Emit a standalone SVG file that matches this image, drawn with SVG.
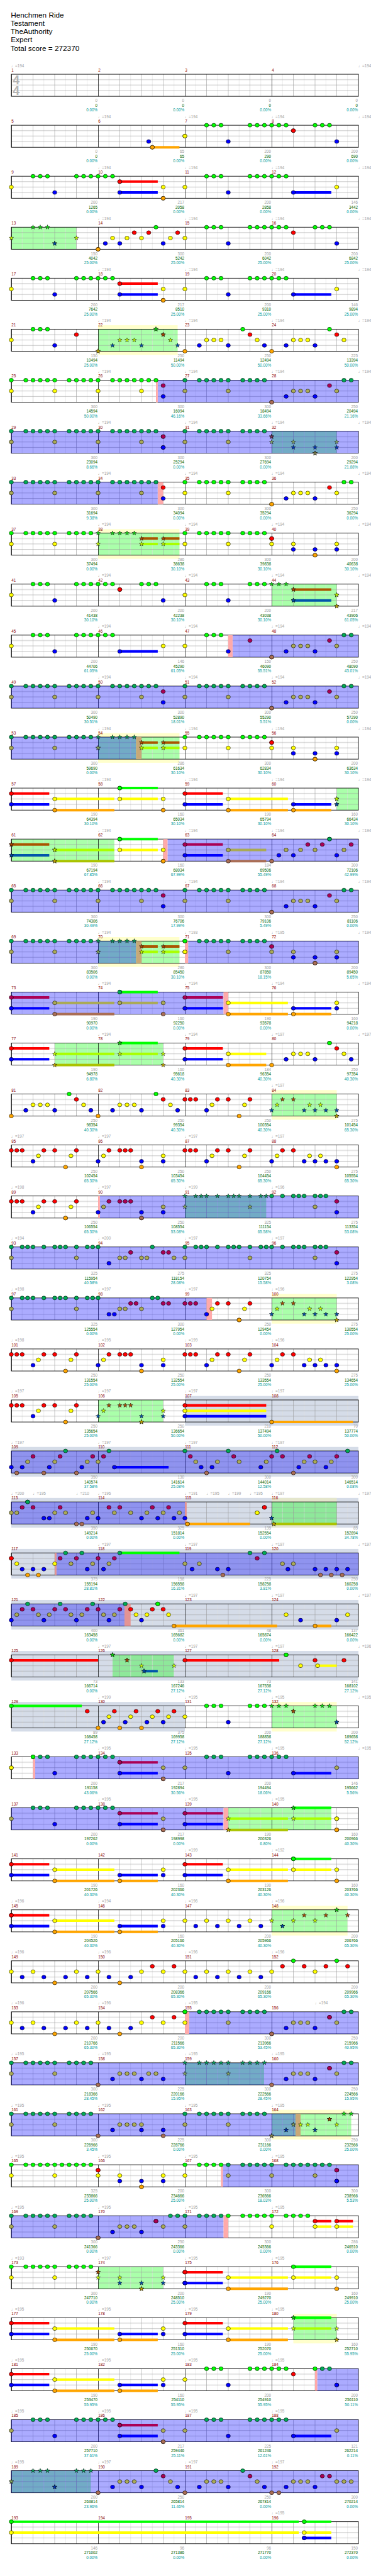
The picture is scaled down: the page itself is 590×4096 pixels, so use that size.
<svg xmlns="http://www.w3.org/2000/svg" width="590" height="4096" viewBox="0 0 590 4096">
<style>
text{font-family:"Liberation Sans","DejaVu Sans",Arial,sans-serif}
.ti{font-size:20.5px;fill:#000}
.mn{font-size:11px;fill:#8b0000}
.tp{font-size:11px;fill:#a0a0a0}
.s1,.s2,.s3{font-size:11px;text-anchor:end}
.s1{fill:#a0a0a0}.s2{fill:#006400}.s3{fill:#009b9b}
.ts{font-size:34px;font-weight:bold;fill:#b4b4b4}
.yb{fill:#ffffcc}.yb2{fill:#e4e6cc}.gb{fill:#d5dce8}.sp{fill:#aaffaa}.sp2{fill:#8ee89a}
.ov{fill:#0000ff;fill-opacity:.33}
.pk{fill:#ffaaaa}.pk2{fill:#e49494}.tn{fill:#c8a878}
.lG,.lR,.lY,.lB,.lO,.mR,.mY,.mO,.kG,.kY,.kB,.kO,.kR{fill:none;stroke-width:7}
.lG,.kG{stroke:#00ff00}.lR{stroke:#ff0000}.lY{stroke:#ffff00}.lB{stroke:#0000ff}.lO{stroke:#ffa500}
.mR{stroke:#aa0055}.mY{stroke:#aaaa55}.mO{stroke:#aa6e55}
.kR{stroke:#aa5500}.kY{stroke:#aaff00}.kB{stroke:#0055aa}.kO{stroke:#aac300}
.nG{marker-start:url(#nG);marker-mid:url(#nG);marker-end:url(#nG)}
.nR{marker-start:url(#nR);marker-mid:url(#nR);marker-end:url(#nR)}
.nY{marker-start:url(#nY);marker-mid:url(#nY);marker-end:url(#nY)}
.nB{marker-start:url(#nB);marker-mid:url(#nB);marker-end:url(#nB)}
.nO{marker-start:url(#nO);marker-mid:url(#nO);marker-end:url(#nO)}
.tG{marker-start:url(#tG);marker-mid:url(#tG);marker-end:url(#tG)}
.tR{marker-start:url(#tR);marker-mid:url(#tR);marker-end:url(#tR)}
.tY{marker-start:url(#tY);marker-mid:url(#tY);marker-end:url(#tY)}
.tB{marker-start:url(#tB);marker-mid:url(#tB);marker-end:url(#tB)}
.tO{marker-start:url(#tO);marker-mid:url(#tO);marker-end:url(#tO)}
.xG{marker-start:url(#xG);marker-mid:url(#xG);marker-end:url(#xG)}
.xR{marker-start:url(#xR);marker-mid:url(#xR);marker-end:url(#xR)}
.xY{marker-start:url(#xY);marker-mid:url(#xY);marker-end:url(#xY)}
.xB{marker-start:url(#xB);marker-mid:url(#xB);marker-end:url(#xB)}
.xO{marker-start:url(#xO);marker-mid:url(#xO);marker-end:url(#xO)}
.zG{marker-start:url(#zG);marker-mid:url(#zG);marker-end:url(#zG)}
.zR{marker-start:url(#zR);marker-mid:url(#zR);marker-end:url(#zR)}
.zY{marker-start:url(#zY);marker-mid:url(#zY);marker-end:url(#zY)}
.zB{marker-start:url(#zB);marker-mid:url(#zB);marker-end:url(#zB)}
.zO{marker-start:url(#zO);marker-mid:url(#zO);marker-end:url(#zO)}
</style>
<defs>
<pattern id="gr" patternUnits="userSpaceOnUse" width="240" height="61">
<path d="M30 0V61M90 0V61M150 0V61M210 0V61" stroke="#dedede" stroke-width="1"/>
<path d="M60 0V61M120 0V61M180 0V61M0 15H240M0 30H240M0 45H240" stroke="#9a9a9a" stroke-width="1"/>
<rect width="1.2" height="61" fill="#000"/>
</pattern>
<g id="st"><rect width="960" height="61" fill="url(#gr)"/><rect width="960" height="61" fill="none" stroke="#000" stroke-width="1.5"/></g>
<marker id="nG" viewBox="-7 -7 14 14" markerWidth="14" markerHeight="14" markerUnits="userSpaceOnUse"><ellipse rx="5.8" ry="5.3" fill="#00ff00" stroke="#000"/></marker>
<marker id="nR" viewBox="-7 -7 14 14" markerWidth="14" markerHeight="14" markerUnits="userSpaceOnUse"><ellipse rx="5.8" ry="5.3" fill="#ff0000" stroke="#000"/></marker>
<marker id="nY" viewBox="-7 -7 14 14" markerWidth="14" markerHeight="14" markerUnits="userSpaceOnUse"><ellipse rx="5.8" ry="5.3" fill="#ffff00" stroke="#000"/></marker>
<marker id="nB" viewBox="-7 -7 14 14" markerWidth="14" markerHeight="14" markerUnits="userSpaceOnUse"><ellipse rx="5.8" ry="5.3" fill="#0000ff" stroke="#000"/></marker>
<marker id="nO" viewBox="-7 -7 14 14" markerWidth="14" markerHeight="14" markerUnits="userSpaceOnUse"><ellipse rx="5.8" ry="5.3" fill="#ffa500" stroke="#000"/></marker>
<marker id="tG" viewBox="-7 -7 14 14" markerWidth="14" markerHeight="14" markerUnits="userSpaceOnUse"><ellipse rx="5.8" ry="5.3" fill="#00aa55" stroke="#000"/></marker>
<marker id="tR" viewBox="-7 -7 14 14" markerWidth="14" markerHeight="14" markerUnits="userSpaceOnUse"><ellipse rx="5.8" ry="5.3" fill="#aa0055" stroke="#000"/></marker>
<marker id="tY" viewBox="-7 -7 14 14" markerWidth="14" markerHeight="14" markerUnits="userSpaceOnUse"><ellipse rx="5.8" ry="5.3" fill="#aaaa55" stroke="#000"/></marker>
<marker id="tB" viewBox="-7 -7 14 14" markerWidth="14" markerHeight="14" markerUnits="userSpaceOnUse"><ellipse rx="5.8" ry="5.3" fill="#0000ff" stroke="#000"/></marker>
<marker id="tO" viewBox="-7 -7 14 14" markerWidth="14" markerHeight="14" markerUnits="userSpaceOnUse"><ellipse rx="5.8" ry="5.3" fill="#aa6e55" stroke="#000"/></marker>
<marker id="xG" viewBox="-7 -7 14 14" markerWidth="14" markerHeight="14" markerUnits="userSpaceOnUse"><polygon points="0,-6.5 1.53,-2.1 6.18,-2 2.47,0.8 3.82,5.26 0,2.6 -3.82,5.26 -2.47,0.8 -6.18,-2 -1.53,-2.1" fill="#11dd11" stroke="#000" stroke-width=".8"/></marker>
<marker id="xR" viewBox="-7 -7 14 14" markerWidth="14" markerHeight="14" markerUnits="userSpaceOnUse"><polygon points="0,-6.5 1.53,-2.1 6.18,-2 2.47,0.8 3.82,5.26 0,2.6 -3.82,5.26 -2.47,0.8 -6.18,-2 -1.53,-2.1" fill="#b04a00" stroke="#000" stroke-width=".8"/></marker>
<marker id="xY" viewBox="-7 -7 14 14" markerWidth="14" markerHeight="14" markerUnits="userSpaceOnUse"><polygon points="0,-6.5 1.53,-2.1 6.18,-2 2.47,0.8 3.82,5.26 0,2.6 -3.82,5.26 -2.47,0.8 -6.18,-2 -1.53,-2.1" fill="#c8ff00" stroke="#000" stroke-width=".8"/></marker>
<marker id="xB" viewBox="-7 -7 14 14" markerWidth="14" markerHeight="14" markerUnits="userSpaceOnUse"><polygon points="0,-6.5 1.53,-2.1 6.18,-2 2.47,0.8 3.82,5.26 0,2.6 -3.82,5.26 -2.47,0.8 -6.18,-2 -1.53,-2.1" fill="#0050b0" stroke="#000" stroke-width=".8"/></marker>
<marker id="xO" viewBox="-7 -7 14 14" markerWidth="14" markerHeight="14" markerUnits="userSpaceOnUse"><polygon points="0,-6.5 1.53,-2.1 6.18,-2 2.47,0.8 3.82,5.26 0,2.6 -3.82,5.26 -2.47,0.8 -6.18,-2 -1.53,-2.1" fill="#d0b000" stroke="#000" stroke-width=".8"/></marker>
<marker id="zG" viewBox="-7 -7 14 14" markerWidth="14" markerHeight="14" markerUnits="userSpaceOnUse"><polygon points="0,-6.5 1.53,-2.1 6.18,-2 2.47,0.8 3.82,5.26 0,2.6 -3.82,5.26 -2.47,0.8 -6.18,-2 -1.53,-2.1" fill="#0a9a5a" stroke="#000" stroke-width=".8"/></marker>
<marker id="zR" viewBox="-7 -7 14 14" markerWidth="14" markerHeight="14" markerUnits="userSpaceOnUse"><polygon points="0,-6.5 1.53,-2.1 6.18,-2 2.47,0.8 3.82,5.26 0,2.6 -3.82,5.26 -2.47,0.8 -6.18,-2 -1.53,-2.1" fill="#7a3a5a" stroke="#000" stroke-width=".8"/></marker>
<marker id="zY" viewBox="-7 -7 14 14" markerWidth="14" markerHeight="14" markerUnits="userSpaceOnUse"><polygon points="0,-6.5 1.53,-2.1 6.18,-2 2.47,0.8 3.82,5.26 0,2.6 -3.82,5.26 -2.47,0.8 -6.18,-2 -1.53,-2.1" fill="#88aa66" stroke="#000" stroke-width=".8"/></marker>
<marker id="zB" viewBox="-7 -7 14 14" markerWidth="14" markerHeight="14" markerUnits="userSpaceOnUse"><polygon points="0,-6.5 1.53,-2.1 6.18,-2 2.47,0.8 3.82,5.26 0,2.6 -3.82,5.26 -2.47,0.8 -6.18,-2 -1.53,-2.1" fill="#0038b8" stroke="#000" stroke-width=".8"/></marker>
<marker id="zO" viewBox="-7 -7 14 14" markerWidth="14" markerHeight="14" markerUnits="userSpaceOnUse"><polygon points="0,-6.5 1.53,-2.1 6.18,-2 2.47,0.8 3.82,5.26 0,2.6 -3.82,5.26 -2.47,0.8 -6.18,-2 -1.53,-2.1" fill="#8a8a55" stroke="#000" stroke-width=".8"/></marker>
</defs>
<rect width="590" height="4096" fill="#fff"/>
<g transform="scale(0.575)">
<g id="title" class="ti"><text x="30" y="48">Henchmen Ride</text><text x="29" y="71">Testament</text><text x="29" y="94">TheAuthority</text><text x="30" y="117">Expert</text><text x="29" y="141">Total score = 272370</text></g>

<g id="m1-4" transform="translate(31.3,205.3)">
<use href="#st"/>
<text class="ts" x="4" y="27">4</text><text class="ts" x="4" y="57">4</text>
<text class="tp" y="-20"><tspan x="-0.5">♩=194</tspan><tspan x="959.5">♩=194</tspan></text>
<text class="mn" y="-7"><tspan x=".3">1</tspan><tspan x="240.3">2</tspan><tspan x="480.3">3</tspan><tspan x="720.3">4</tspan></text>
<text class="s1" y="77"><tspan x="238.5">0</tspan><tspan x="478.5">0</tspan><tspan x="718.5">0</tspan><tspan x="958.5">0</tspan></text>
<text class="s2" y="90"><tspan x="238.5">0</tspan><tspan x="478.5">0</tspan><tspan x="718.5">0</tspan><tspan x="958.5">0</tspan></text>
<text class="s3" y="103"><tspan x="238.5">0.00%</tspan><tspan x="478.5">0.00%</tspan><tspan x="718.5">0.00%</tspan><tspan x="958.5">0.00%</tspan></text>
</g>

<g id="m5-8" transform="translate(31.3,346.3)">
<use href="#st"/>
<path class="lO" d="M390 61H465"/>
<path class="nB" d="M380 45H600H900"/>
<path class="nO" d="M390 61H390"/>
<path class="nY" d="M480 30H480"/>
<path class="nG" d="M540 0H560H580H660H680H700H720H740H760H840H860H880"/>
<path class="nR" d="M780 15H780"/>
<text class="tp" y="-20"><tspan x="239.5">♩=194</tspan><tspan x="479.5">♩=194</tspan><tspan x="719.5">♩=194</tspan><tspan x="959.5">♩=194</tspan></text>
<text class="mn" y="-7"><tspan x=".3">5</tspan><tspan x="240.3">6</tspan><tspan x="480.3">7</tspan><tspan x="720.3">8</tspan></text>
<text class="s1" y="77"><tspan x="238.5">0</tspan><tspan x="478.5">65</tspan><tspan x="718.5">200</tspan><tspan x="958.5">200</tspan></text>
<text class="s2" y="90"><tspan x="238.5">0</tspan><tspan x="478.5">65</tspan><tspan x="718.5">290</tspan><tspan x="958.5">690</tspan></text>
<text class="s3" y="103"><tspan x="238.5">0.00%</tspan><tspan x="478.5">0.00%</tspan><tspan x="718.5">0.00%</tspan><tspan x="958.5">0.00%</tspan></text>
</g>

<g id="m9-12" transform="translate(31.3,487.3)">
<use href="#st"/>
<path class="lR" d="M300 15H405"/>
<path class="lB" d="M300 45H405M780 45H885"/>
<path class="nY" d="M0 30H420H480H900"/>
<path class="nG" d="M60 0H80H100H180H200H220H240H260H280H540H560H580H660H680H700H720H740H760"/>
<path class="nB" d="M120 45H300H600H780"/>
<path class="nR" d="M300 15H300"/>
<path class="nO" d="M420 61H420"/>
<text class="tp" y="-20"><tspan x="239.5">♩=194</tspan><tspan x="479.5">♩=194</tspan><tspan x="719.5">♩=194</tspan><tspan x="959.5">♩=194</tspan></text>
<text class="mn" y="-7"><tspan x=".3">9</tspan><tspan x="240.3">10</tspan><tspan x="480.3">11</tspan><tspan x="720.3">12</tspan></text>
<text class="s1" y="77"><tspan x="238.5">200</tspan><tspan x="478.5">217</tspan><tspan x="718.5">200</tspan><tspan x="958.5">146</tspan></text>
<text class="s2" y="90"><tspan x="238.5">1265</tspan><tspan x="478.5">2058</tspan><tspan x="718.5">2858</tspan><tspan x="958.5">3442</tspan></text>
<text class="s3" y="103"><tspan x="238.5">0.00%</tspan><tspan x="478.5">0.00%</tspan><tspan x="718.5">0.00%</tspan><tspan x="958.5">0.00%</tspan></text>
</g>

<g id="m13-16" transform="translate(31.3,628.3)">
<rect class="sp" width="180" height="61"/>
<use href="#st"/>
<path class="xY" d="M0 30H180"/>
<path class="xG" d="M60 0H80H100"/>
<path class="xB" d="M120 45H120"/>
<path class="nO" d="M240 61H240"/>
<path class="nB" d="M260 45H300H420H600H900"/>
<path class="nY" d="M280 30H320H360H440H480"/>
<path class="nR" d="M340 15H380H460H780"/>
<path class="nG" d="M400 0H540H560H580H660H680H700H720H740H760H840H860H880"/>
<text class="tp" y="-20"><tspan x="239.5">♩=194</tspan><tspan x="479.5">♩=194</tspan><tspan x="719.5">♩=194</tspan><tspan x="959.5">♩=194</tspan></text>
<text class="mn" y="-7"><tspan x=".3">13</tspan><tspan x="240.3">14</tspan><tspan x="480.3">15</tspan><tspan x="720.3">16</tspan></text>
<text class="s1" y="77"><tspan x="238.5">150</tspan><tspan x="478.5">300</tspan><tspan x="718.5">200</tspan><tspan x="958.5">200</tspan></text>
<text class="s2" y="90"><tspan x="238.5">4042</tspan><tspan x="478.5">5242</tspan><tspan x="718.5">6042</tspan><tspan x="958.5">6842</tspan></text>
<text class="s3" y="103"><tspan x="238.5">25.00%</tspan><tspan x="478.5">25.00%</tspan><tspan x="718.5">25.00%</tspan><tspan x="958.5">25.00%</tspan></text>
</g>

<g id="m17-20" transform="translate(31.3,769.3)">
<use href="#st"/>
<path class="lR" d="M300 15H405"/>
<path class="lB" d="M300 45H405M780 45H885"/>
<path class="nY" d="M0 30H420H480H900"/>
<path class="nG" d="M60 0H80H100H180H200H220H240H260H280H540H560H580H660H680H700H720H740H760"/>
<path class="nB" d="M120 45H300H600H780"/>
<path class="nR" d="M300 15H300"/>
<path class="nO" d="M420 61H420"/>
<text class="tp" y="-20"><tspan x="239.5">♩=194</tspan><tspan x="479.5">♩=194</tspan><tspan x="719.5">♩=194</tspan><tspan x="959.5">♩=194</tspan></text>
<text class="mn" y="-7"><tspan x=".3">17</tspan><tspan x="240.3">18</tspan><tspan x="480.3">19</tspan><tspan x="720.3">20</tspan></text>
<text class="s1" y="77"><tspan x="238.5">200</tspan><tspan x="478.5">217</tspan><tspan x="718.5">200</tspan><tspan x="958.5">146</tspan></text>
<text class="s2" y="90"><tspan x="238.5">7642</tspan><tspan x="478.5">8510</tspan><tspan x="718.5">9310</tspan><tspan x="958.5">9894</tspan></text>
<text class="s3" y="103"><tspan x="238.5">25.00%</tspan><tspan x="478.5">25.00%</tspan><tspan x="718.5">25.00%</tspan><tspan x="958.5">25.00%</tspan></text>
</g>

<g id="m21-24" transform="translate(31.3,910.3)">
<rect class="yb" x="240" y="-11" width="220" height="82"/>
<rect class="sp" x="240" width="220" height="61"/>
<use href="#st"/>
<path class="nY" d="M0 30H540H560H580H680H780H800H820H920"/>
<path class="nG" d="M60 0H80H100H640H880"/>
<path class="nB" d="M120 45H520H600H700H760H840"/>
<path class="nR" d="M180 15H660H900"/>
<path class="nO" d="M480 61H720"/>
<path class="xO" d="M240 61H240"/>
<path class="xB" d="M280 45H360H460"/>
<path class="xY" d="M300 30H320H340H440"/>
<path class="xG" d="M400 0H400"/>
<path class="xR" d="M420 15H420"/>
<text class="tp" y="-20"><tspan x="239.5">♩=194</tspan><tspan x="479.5">♩=194</tspan><tspan x="719.5">♩=194</tspan><tspan x="959.5">♩=194</tspan></text>
<text class="mn" y="-7"><tspan x=".3">21</tspan><tspan x="240.3">22</tspan><tspan x="480.3">23</tspan><tspan x="720.3">24</tspan></text>
<text class="s1" y="77"><tspan x="238.5">150</tspan><tspan x="478.5">250</tspan><tspan x="718.5">250</tspan><tspan x="958.5">225</tspan></text>
<text class="s2" y="90"><tspan x="238.5">10494</tspan><tspan x="478.5">11494</tspan><tspan x="718.5">12494</tspan><tspan x="958.5">13394</tspan></text>
<text class="s3" y="103"><tspan x="238.5">25.00%</tspan><tspan x="478.5">50.00%</tspan><tspan x="718.5">50.00%</tspan><tspan x="958.5">50.00%</tspan></text>
</g>

<g id="m25-28" transform="translate(31.3,1051.3)">
<use href="#st"/>
<rect class="ov" x="405" width="555" height="61"/>
<rect class="pk" x="400" width="5" height="61"/>
<path class="nG" d="M0 0H40H60H80H100H120H160H180H200H220H240H280H300H320H340H360H380H400"/>
<path class="nY" d="M0 30H120H240H360"/>
<path class="tR" d="M420 15H880"/>
<path class="tB" d="M420 45H760H840"/>
<path class="tG" d="M480 0H520H540H560H580H600H640H660H680H700H920H940"/>
<path class="tY" d="M480 30H600H780H800H820H900"/>
<path class="tO" d="M720 61H720"/>
<text class="tp" y="-20"><tspan x="239.5">♩=194</tspan><tspan x="479.5">♩=194</tspan><tspan x="719.5">♩=194</tspan><tspan x="959.5">♩=194</tspan></text>
<text class="mn" y="-7"><tspan x=".3">25</tspan><tspan x="240.3">26</tspan><tspan x="480.3">27</tspan><tspan x="720.3">28</tspan></text>
<text class="s1" y="77"><tspan x="238.5">300</tspan><tspan x="478.5">300</tspan><tspan x="718.5">300</tspan><tspan x="958.5">250</tspan></text>
<text class="s2" y="90"><tspan x="238.5">14594</tspan><tspan x="478.5">16094</tspan><tspan x="718.5">18494</tspan><tspan x="958.5">20494</tspan></text>
<text class="s3" y="103"><tspan x="238.5">50.00%</tspan><tspan x="478.5">46.16%</tspan><tspan x="718.5">33.66%</tspan><tspan x="958.5">21.16%</tspan></text>
</g>

<g id="m29-32" transform="translate(31.3,1192.3)">
<rect class="sp" x="720" width="180" height="61"/>
<use href="#st"/>
<rect class="ov" width="960" height="61"/>
<path class="tG" d="M0 0H40H60H80H100H120H160H180H200H220H240H280H300H320H340H360H380H400H480H520H540H560H580H600H640H660H680H700"/>
<path class="tY" d="M0 30H120H240H360H480H600"/>
<path class="tR" d="M420 15H420"/>
<path class="tB" d="M420 45H420"/>
<path class="zR" d="M720 15H720"/>
<path class="zY" d="M720 30H780H900"/>
<path class="zB" d="M780 45H840H900"/>
<path class="zO" d="M840 61H840"/>
<text class="tp" y="-20"><tspan x="239.5">♩=194</tspan><tspan x="479.5">♩=194</tspan><tspan x="719.5">♩=194</tspan><tspan x="959.5">♩=194</tspan></text>
<text class="mn" y="-7"><tspan x=".3">29</tspan><tspan x="240.3">30</tspan><tspan x="480.3">31</tspan><tspan x="720.3">32</tspan></text>
<text class="s1" y="77"><tspan x="238.5">300</tspan><tspan x="478.5">300</tspan><tspan x="718.5">300</tspan><tspan x="958.5">200</tspan></text>
<text class="s2" y="90"><tspan x="238.5">23094</tspan><tspan x="478.5">25294</tspan><tspan x="718.5">27694</tspan><tspan x="958.5">29294</tspan></text>
<text class="s3" y="103"><tspan x="238.5">8.66%</tspan><tspan x="478.5">0.00%</tspan><tspan x="718.5">0.00%</tspan><tspan x="958.5">21.88%</tspan></text>
</g>

<g id="m33-36" transform="translate(31.3,1333.3)">
<use href="#st"/>
<rect class="ov" width="405" height="61"/>
<rect class="pk" x="405" width="15" height="61"/>
<path class="tG" d="M0 0H40H60H80H100H120H160H180H200H220H240H280H300H320H340H360H380H400"/>
<path class="tY" d="M0 30H120H240H360"/>
<path class="nR" d="M420 15H880"/>
<path class="nB" d="M420 45H760H840"/>
<path class="nG" d="M480 0H520H540H560H580H600H640H660H680H700H920H940"/>
<path class="nY" d="M480 30H600H780H800H820H900"/>
<path class="nO" d="M720 61H720"/>
<text class="tp" y="-20"><tspan x="239.5">♩=194</tspan><tspan x="479.5">♩=194</tspan><tspan x="719.5">♩=194</tspan><tspan x="959.5">♩=194</tspan></text>
<text class="mn" y="-7"><tspan x=".3">33</tspan><tspan x="240.3">34</tspan><tspan x="480.3">35</tspan><tspan x="720.3">36</tspan></text>
<text class="s1" y="77"><tspan x="238.5">300</tspan><tspan x="478.5">300</tspan><tspan x="718.5">300</tspan><tspan x="958.5">250</tspan></text>
<text class="s2" y="90"><tspan x="238.5">31694</tspan><tspan x="478.5">34094</tspan><tspan x="718.5">35294</tspan><tspan x="958.5">36294</tspan></text>
<text class="s3" y="103"><tspan x="238.5">9.38%</tspan><tspan x="478.5">0.00%</tspan><tspan x="718.5">0.00%</tspan><tspan x="958.5">0.00%</tspan></text>
</g>

<g id="m37-40" transform="translate(31.3,1474.3)">
<rect class="yb" x="240" y="-11" width="225" height="82"/>
<rect class="sp" x="240" width="225" height="61"/>
<use href="#st"/>
<path class="kR" d="M360 15H405M420 15H465"/>
<path class="kY" d="M360 30H405M420 30H465"/>
<path class="nG" d="M0 0H40H60H80H100H120H160H180H200H220H480H520H540H560H580H600H640H660H680H700"/>
<path class="nY" d="M0 30H120H480H600H720H780H900"/>
<path class="xG" d="M240 0H280H300H320H340"/>
<path class="xY" d="M240 30H360H420"/>
<path class="xR" d="M360 15H420"/>
<path class="nR" d="M720 15H720"/>
<path class="nB" d="M780 45H840H900"/>
<path class="nO" d="M840 61H840"/>
<text class="tp" y="-20"><tspan x="239.5">♩=194</tspan><tspan x="479.5">♩=194</tspan><tspan x="719.5">♩=194</tspan><tspan x="959.5">♩=194</tspan></text>
<text class="mn" y="-7"><tspan x=".3">37</tspan><tspan x="240.3">38</tspan><tspan x="480.3">39</tspan><tspan x="720.3">40</tspan></text>
<text class="s1" y="77"><tspan x="238.5">300</tspan><tspan x="478.5">286</tspan><tspan x="718.5">300</tspan><tspan x="958.5">200</tspan></text>
<text class="s2" y="90"><tspan x="238.5">37494</tspan><tspan x="478.5">38638</tspan><tspan x="718.5">39838</tspan><tspan x="958.5">40638</tspan></text>
<text class="s3" y="103"><tspan x="238.5">0.00%</tspan><tspan x="478.5">30.10%</tspan><tspan x="718.5">30.10%</tspan><tspan x="958.5">30.10%</tspan></text>
</g>

<g id="m41-44" transform="translate(31.3,1615.3)">
<rect class="sp" x="720" width="180" height="61"/>
<use href="#st"/>
<path class="kR" d="M780 15H885"/>
<path class="kB" d="M780 45H885"/>
<path class="nY" d="M0 30H480"/>
<path class="nG" d="M60 0H80H100H180H200H220H240H260H280H360H380H400H540H560H580H660H680H700"/>
<path class="nB" d="M120 45H420H600"/>
<path class="nR" d="M300 15H300"/>
<path class="xG" d="M720 0H740H760"/>
<path class="xR" d="M780 15H780"/>
<path class="xB" d="M780 45H780"/>
<path class="xY" d="M900 30H900"/>
<path class="xO" d="M900 61H900"/>
<text class="tp" y="-20"><tspan x="239.5">♩=194</tspan><tspan x="479.5">♩=194</tspan><tspan x="719.5">♩=194</tspan><tspan x="959.5">♩=194</tspan></text>
<text class="mn" y="-7"><tspan x=".3">41</tspan><tspan x="240.3">42</tspan><tspan x="480.3">43</tspan><tspan x="720.3">44</tspan></text>
<text class="s1" y="77"><tspan x="238.5">200</tspan><tspan x="478.5">200</tspan><tspan x="718.5">200</tspan><tspan x="958.5">217</tspan></text>
<text class="s2" y="90"><tspan x="238.5">41438</tspan><tspan x="478.5">42238</tspan><tspan x="718.5">43038</tspan><tspan x="958.5">43906</tspan></text>
<text class="s3" y="103"><tspan x="238.5">30.10%</tspan><tspan x="478.5">30.10%</tspan><tspan x="718.5">30.10%</tspan><tspan x="958.5">61.05%</tspan></text>
</g>

<g id="m45-48" transform="translate(31.3,1756.3)">
<use href="#st"/>
<rect class="ov" x="612" width="348" height="61"/>
<rect class="pk" x="600" width="12" height="61"/>
<path class="lB" d="M300 45H405"/>
<path class="nY" d="M0 30H420H480"/>
<path class="nG" d="M60 0H80H100H180H200H220H240H260H280H540H560H580"/>
<path class="nB" d="M120 45H300H600"/>
<path class="tR" d="M660 15H880"/>
<path class="tO" d="M720 61H720"/>
<path class="tB" d="M760 45H840"/>
<path class="tY" d="M780 30H800H820H900"/>
<path class="tG" d="M920 0H940"/>
<text class="tp" y="-20"><tspan x="239.5">♩=194</tspan><tspan x="479.5">♩=194</tspan><tspan x="719.5">♩=194</tspan><tspan x="959.5">♩=194</tspan></text>
<text class="mn" y="-7"><tspan x=".3">45</tspan><tspan x="240.3">46</tspan><tspan x="480.3">47</tspan><tspan x="720.3">48</tspan></text>
<text class="s1" y="77"><tspan x="238.5">200</tspan><tspan x="478.5">146</tspan><tspan x="718.5">150</tspan><tspan x="958.5">250</tspan></text>
<text class="s2" y="90"><tspan x="238.5">44706</tspan><tspan x="478.5">45290</tspan><tspan x="718.5">46090</tspan><tspan x="958.5">48090</tspan></text>
<text class="s3" y="103"><tspan x="238.5">61.05%</tspan><tspan x="478.5">61.05%</tspan><tspan x="718.5">55.51%</tspan><tspan x="958.5">43.01%</tspan></text>
</g>

<g id="m49-52" transform="translate(31.3,1897.3)">
<use href="#st"/>
<rect class="ov" width="960" height="61"/>
<path class="tG" d="M0 0H40H60H80H100H120H160H180H200H220H240H280H300H320H340H360H380H400H480H520H540H560H580H600H640H660H680H700H920H940"/>
<path class="tY" d="M0 30H120H240H360H480H600H780H800H820H900"/>
<path class="tR" d="M420 15H880"/>
<path class="tB" d="M420 45H760H840"/>
<path class="tO" d="M720 61H720"/>
<text class="tp" y="-20"><tspan x="239.5">♩=194</tspan><tspan x="479.5">♩=194</tspan><tspan x="719.5">♩=194</tspan><tspan x="959.5">♩=194</tspan></text>
<text class="mn" y="-7"><tspan x=".3">49</tspan><tspan x="240.3">50</tspan><tspan x="480.3">51</tspan><tspan x="720.3">52</tspan></text>
<text class="s1" y="77"><tspan x="238.5">300</tspan><tspan x="478.5">300</tspan><tspan x="718.5">300</tspan><tspan x="958.5">250</tspan></text>
<text class="s2" y="90"><tspan x="238.5">50490</tspan><tspan x="478.5">52890</tspan><tspan x="718.5">55290</tspan><tspan x="958.5">57290</tspan></text>
<text class="s3" y="103"><tspan x="238.5">30.51%</tspan><tspan x="478.5">18.01%</tspan><tspan x="718.5">5.51%</tspan><tspan x="958.5">0.00%</tspan></text>
</g>

<g id="m53-56" transform="translate(31.3,2038.3)">
<rect class="yb" x="240" y="-11" width="225" height="82"/>
<rect class="sp" x="240" width="225" height="61"/>
<use href="#st"/>
<rect class="ov" width="345" height="61"/>
<rect class="tn" x="345" width="15" height="61"/>
<path class="kR" d="M360 15H405M420 15H465"/>
<path class="kY" d="M360 30H405M420 30H465"/>
<path class="tG" d="M0 0H40H60H80H100H120H160H180H200H220"/>
<path class="tY" d="M0 30H120"/>
<path class="zG" d="M240 0H280H300H320H340"/>
<path class="zY" d="M240 30H240"/>
<path class="xR" d="M360 15H420"/>
<path class="xY" d="M360 30H420"/>
<path class="nG" d="M480 0H520H540H560H580H600H640H660H680H700"/>
<path class="nY" d="M480 30H600H720H780H900"/>
<path class="nR" d="M720 15H720"/>
<path class="nB" d="M780 45H840H900"/>
<path class="nO" d="M840 61H840"/>
<text class="tp" y="-20"><tspan x="239.5">♩=194</tspan><tspan x="479.5">♩=194</tspan><tspan x="719.5">♩=194</tspan><tspan x="959.5">♩=194</tspan></text>
<text class="mn" y="-7"><tspan x=".3">53</tspan><tspan x="240.3">54</tspan><tspan x="480.3">55</tspan><tspan x="720.3">56</tspan></text>
<text class="s1" y="77"><tspan x="238.5">300</tspan><tspan x="478.5">286</tspan><tspan x="718.5">300</tspan><tspan x="958.5">200</tspan></text>
<text class="s2" y="90"><tspan x="238.5">59690</tspan><tspan x="478.5">61634</tspan><tspan x="718.5">62834</tspan><tspan x="958.5">63634</tspan></text>
<text class="s3" y="103"><tspan x="238.5">0.00%</tspan><tspan x="478.5">30.10%</tspan><tspan x="718.5">30.10%</tspan><tspan x="958.5">30.10%</tspan></text>
</g>

<g id="m57-60" transform="translate(31.3,2179.3)">
<rect class="sp" x="900" width="60" height="61"/>
<use href="#st"/>
<path class="lR" d="M0 15H105M480 15H585"/>
<path class="lB" d="M0 45H105M480 45H585M780 45H885"/>
<path class="lY" d="M120 30H285M300 30H405M600 30H765"/>
<path class="lO" d="M120 61H285M600 61H765M780 61H885"/>
<path class="lG" d="M300 0H405"/>
<path class="nR" d="M0 15H480"/>
<path class="nB" d="M0 45H480H780"/>
<path class="nY" d="M120 30H300H420H600"/>
<path class="nO" d="M120 61H420H600H780"/>
<path class="nG" d="M300 0H300"/>
<path class="xY" d="M900 30H900"/>
<path class="xB" d="M900 45H900"/>
<text class="tp" y="-20"><tspan x="239.5">♩=194</tspan><tspan x="479.5">♩=194</tspan><tspan x="719.5">♩=194</tspan><tspan x="959.5">♩=194</tspan></text>
<text class="mn" y="-7"><tspan x=".3">57</tspan><tspan x="240.3">58</tspan><tspan x="480.3">59</tspan><tspan x="720.3">60</tspan></text>
<text class="s1" y="77"><tspan x="238.5">190</tspan><tspan x="478.5">160</tspan><tspan x="718.5">190</tspan><tspan x="958.5">160</tspan></text>
<text class="s2" y="90"><tspan x="238.5">64394</tspan><tspan x="478.5">65034</tspan><tspan x="718.5">65794</tspan><tspan x="958.5">66434</tspan></text>
<text class="s3" y="103"><tspan x="238.5">30.10%</tspan><tspan x="478.5">30.10%</tspan><tspan x="718.5">30.10%</tspan><tspan x="958.5">30.10%</tspan></text>
</g>

<g id="m61-64" transform="translate(31.3,2320.3)">
<rect class="sp" width="285" height="61"/>
<use href="#st"/>
<rect class="ov" x="432" width="528" height="61"/>
<rect class="pk" x="420" width="12" height="61"/>
<path class="kR" d="M0 15H105"/>
<path class="kB" d="M0 45H105"/>
<path class="kY" d="M120 30H285"/>
<path class="kO" d="M120 61H285"/>
<path class="lG" d="M300 0H405"/>
<path class="lY" d="M300 30H405"/>
<path class="mR" d="M480 15H585"/>
<path class="lB" d="M480 45H585"/>
<path class="mY" d="M600 30H705"/>
<path class="mO" d="M600 61H705"/>
<path class="xR" d="M0 15H0"/>
<path class="xB" d="M0 45H0"/>
<path class="xY" d="M120 30H120"/>
<path class="xO" d="M120 61H120"/>
<path class="nG" d="M300 0H300"/>
<path class="nY" d="M300 30H420"/>
<path class="nO" d="M420 61H420"/>
<path class="tR" d="M480 15H820H860H940"/>
<path class="tB" d="M480 45H740H780H900"/>
<path class="tY" d="M600 30H760H800H840H920"/>
<path class="tO" d="M600 61H720"/>
<path class="tG" d="M880 0H880"/>
<text class="tp" y="-20"><tspan x="239.5">♩=194</tspan><tspan x="479.5">♩=194</tspan><tspan x="719.5">♩=194</tspan><tspan x="959.5">♩=194</tspan></text>
<text class="mn" y="-7"><tspan x=".3">61</tspan><tspan x="240.3">62</tspan><tspan x="480.3">63</tspan><tspan x="720.3">64</tspan></text>
<text class="s1" y="77"><tspan x="238.5">190</tspan><tspan x="478.5">160</tspan><tspan x="718.5">184</tspan><tspan x="958.5">300</tspan></text>
<text class="s2" y="90"><tspan x="238.5">67194</tspan><tspan x="478.5">68034</tspan><tspan x="718.5">69506</tspan><tspan x="958.5">72106</tspan></text>
<text class="s3" y="103"><tspan x="238.5">67.85%</tspan><tspan x="478.5">67.99%</tspan><tspan x="718.5">55.49%</tspan><tspan x="958.5">42.99%</tspan></text>
</g>

<g id="m65-68" transform="translate(31.3,2461.3)">
<use href="#st"/>
<rect class="ov" width="960" height="61"/>
<path class="tG" d="M0 0H40H60H80H100H120H160H180H200H220H240H280H300H320H340H360H380H400H480H520H540H560H580H600H640H660H680H700H920H940"/>
<path class="tY" d="M0 30H120H240H360H480H600H780H800H820H900"/>
<path class="tR" d="M420 15H880"/>
<path class="tB" d="M420 45H760H840"/>
<path class="tO" d="M720 61H720"/>
<text class="tp" y="-20"><tspan x="239.5">♩=194</tspan><tspan x="479.5">♩=194</tspan><tspan x="719.5">♩=194</tspan><tspan x="959.5">♩=194</tspan></text>
<text class="mn" y="-7"><tspan x=".3">65</tspan><tspan x="240.3">66</tspan><tspan x="480.3">67</tspan><tspan x="720.3">68</tspan></text>
<text class="s1" y="77"><tspan x="238.5">300</tspan><tspan x="478.5">300</tspan><tspan x="718.5">300</tspan><tspan x="958.5">250</tspan></text>
<text class="s2" y="90"><tspan x="238.5">74306</tspan><tspan x="478.5">76706</tspan><tspan x="718.5">79106</tspan><tspan x="958.5">81106</tspan></text>
<text class="s3" y="103"><tspan x="238.5">30.49%</tspan><tspan x="478.5">17.99%</tspan><tspan x="718.5">5.49%</tspan><tspan x="958.5">0.00%</tspan></text>
</g>

<g id="m69-72" transform="translate(31.3,2602.3)">
<rect class="yb" x="240" y="-11" width="225" height="82"/>
<rect class="sp" x="240" width="225" height="61"/>
<use href="#st"/>
<rect class="ov" width="345" height="61"/>
<rect class="tn" x="345" width="15" height="61"/>
<rect class="ov" x="489" width="471" height="61"/>
<rect class="pk" x="480" width="9" height="61"/>
<path class="kR" d="M360 15H405M420 15H465"/>
<path class="kY" d="M360 30H405M420 30H465"/>
<path class="tG" d="M0 0H40H60H80H100H120H160H180H200H220H520H540H560H580H600H640H660H680H700"/>
<path class="tY" d="M0 30H120H600H720H780H900"/>
<path class="zG" d="M240 0H280H300H320H340"/>
<path class="zY" d="M240 30H240"/>
<path class="xR" d="M360 15H420"/>
<path class="xY" d="M360 30H420"/>
<path class="nG" d="M480 0H480"/>
<path class="nY" d="M480 30H480"/>
<path class="tR" d="M720 15H720"/>
<path class="tB" d="M780 45H840H900"/>
<path class="tO" d="M840 61H840"/>
<text class="tp" y="-20"><tspan x="239.5">♩=194</tspan><tspan x="479.5">♩=193</tspan><tspan x="719.5">♩=195</tspan><tspan x="959.5">♩=194</tspan></text>
<text class="mn" y="-7"><tspan x=".3">69</tspan><tspan x="240.3">70</tspan><tspan x="480.3">71</tspan><tspan x="720.3">72</tspan></text>
<text class="s1" y="77"><tspan x="238.5">300</tspan><tspan x="478.5">286</tspan><tspan x="718.5">300</tspan><tspan x="958.5">200</tspan></text>
<text class="s2" y="90"><tspan x="238.5">83506</tspan><tspan x="478.5">85450</tspan><tspan x="718.5">87850</tspan><tspan x="958.5">89450</tspan></text>
<text class="s3" y="103"><tspan x="238.5">0.00%</tspan><tspan x="478.5">30.10%</tspan><tspan x="718.5">18.15%</tspan><tspan x="958.5">5.65%</tspan></text>
</g>

<g id="m73-76" transform="translate(31.3,2743.3)">
<use href="#st"/>
<rect class="ov" width="587" height="61"/>
<rect class="pk" x="587" width="13" height="61"/>
<path class="mR" d="M0 15H105M480 15H585"/>
<path class="lB" d="M0 45H105M480 45H585M780 45H885"/>
<path class="mY" d="M120 30H285M300 30H405"/>
<path class="mO" d="M120 61H285"/>
<path class="lG" d="M300 0H405"/>
<path class="lY" d="M600 30H765"/>
<path class="lO" d="M600 61H765M780 61H885"/>
<path class="tR" d="M0 15H480"/>
<path class="tB" d="M0 45H480"/>
<path class="tY" d="M120 30H300H420"/>
<path class="tO" d="M120 61H420"/>
<path class="tG" d="M300 0H300"/>
<path class="nY" d="M600 30H900"/>
<path class="nO" d="M600 61H780"/>
<path class="nB" d="M780 45H900"/>
<text class="tp" y="-20"><tspan x="239.5">♩=194</tspan><tspan x="479.5">♩=194</tspan><tspan x="719.5">♩=194</tspan><tspan x="959.5">♩=194</tspan></text>
<text class="mn" y="-7"><tspan x=".3">73</tspan><tspan x="240.3">74</tspan><tspan x="480.3">75</tspan><tspan x="720.3">76</tspan></text>
<text class="s1" y="77"><tspan x="238.5">190</tspan><tspan x="478.5">160</tspan><tspan x="718.5">190</tspan><tspan x="958.5">160</tspan></text>
<text class="s2" y="90"><tspan x="238.5">90970</tspan><tspan x="478.5">92250</tspan><tspan x="718.5">93578</tspan><tspan x="958.5">94218</tspan></text>
<text class="s3" y="103"><tspan x="238.5">0.00%</tspan><tspan x="478.5">0.00%</tspan><tspan x="718.5">0.00%</tspan><tspan x="958.5">0.00%</tspan></text>
</g>

<g id="m77-80" transform="translate(31.3,2884.3)">
<rect class="sp" x="120" width="300" height="61"/>
<use href="#st"/>
<path class="lR" d="M0 15H105M480 15H585"/>
<path class="lB" d="M0 45H105M480 45H585"/>
<path class="kY" d="M120 30H285M300 30H405"/>
<path class="kO" d="M120 61H285"/>
<path class="kG" d="M300 0H405"/>
<path class="lY" d="M600 30H705"/>
<path class="lO" d="M600 61H705"/>
<path class="nR" d="M0 15H480H900"/>
<path class="nB" d="M0 45H480H760H840H940"/>
<path class="xY" d="M120 30H300H420"/>
<path class="xO" d="M120 61H420"/>
<path class="xG" d="M300 0H300"/>
<path class="nY" d="M600 30H780H800H820H920"/>
<path class="nO" d="M600 61H720"/>
<path class="nG" d="M880 0H880"/>
<text class="tp" y="-20"><tspan x="239.5">♩=194</tspan><tspan x="479.5">♩=194</tspan><tspan x="719.5">♩=197</tspan><tspan x="959.5">♩=197</tspan></text>
<text class="mn" y="-7"><tspan x=".3">77</tspan><tspan x="240.3">78</tspan><tspan x="480.3">79</tspan><tspan x="720.3">80</tspan></text>
<text class="s1" y="77"><tspan x="238.5">190</tspan><tspan x="478.5">160</tspan><tspan x="718.5">184</tspan><tspan x="958.5">250</tspan></text>
<text class="s2" y="90"><tspan x="238.5">94978</tspan><tspan x="478.5">95618</tspan><tspan x="718.5">96354</tspan><tspan x="958.5">97354</tspan></text>
<text class="s3" y="103"><tspan x="238.5">6.80%</tspan><tspan x="478.5">40.30%</tspan><tspan x="718.5">40.30%</tspan><tspan x="958.5">40.30%</tspan></text>
</g>

<g id="m81-84" transform="translate(31.3,3025.3)">
<rect class="yb" x="720" y="-11" width="180" height="82"/>
<rect class="sp" x="720" width="180" height="61"/>
<use href="#st"/>
<path class="nO" d="M0 61H240H630"/>
<path class="nB" d="M40 45H120H220H280H360H460H540"/>
<path class="nY" d="M60 30H80H100H200H300H320H340H440H555H645"/>
<path class="nG" d="M160 0H400"/>
<path class="nR" d="M180 15H420H480H495H510H570H600H660"/>
<path class="xB" d="M720 45H810H840H870H900"/>
<path class="xY" d="M735 30H825H855"/>
<path class="xR" d="M750 15H780"/>
<path class="xO" d="M900 61H900"/>
<text class="tp" y="-20"><tspan x="719.5">♩=197</tspan></text>
<text class="mn" y="-7"><tspan x=".3">81</tspan><tspan x="240.3">82</tspan><tspan x="480.3">83</tspan><tspan x="720.3">84</tspan></text>
<text class="s1" y="77"><tspan x="238.5">250</tspan><tspan x="478.5">250</tspan><tspan x="718.5">250</tspan><tspan x="958.5">275</tspan></text>
<text class="s2" y="90"><tspan x="238.5">98354</tspan><tspan x="478.5">99354</tspan><tspan x="718.5">100354</tspan><tspan x="958.5">101454</tspan></text>
<text class="s3" y="103"><tspan x="238.5">40.30%</tspan><tspan x="478.5">40.30%</tspan><tspan x="718.5">40.30%</tspan><tspan x="958.5">65.30%</tspan></text>
</g>

<g id="m85-88" transform="translate(31.3,3166.3)">
<use href="#st"/>
<path class="nR" d="M0 15H15H30H90H120H180H270H300H315H330H480H495H510H570H600H660H750H780"/>
<path class="nB" d="M60 45H240H360H420H540H720H810H840H870H900"/>
<path class="nY" d="M75 30H165H255H420H555H645H735H825H855"/>
<path class="nO" d="M150 61H360H630H900"/>
<text class="tp" y="-20"><tspan x="-0.5">♩=197</tspan><tspan x="239.5">♩=197</tspan><tspan x="479.5">♩=197</tspan><tspan x="719.5">♩=197</tspan></text>
<text class="mn" y="-7"><tspan x=".3">85</tspan><tspan x="240.3">86</tspan><tspan x="480.3">87</tspan><tspan x="720.3">88</tspan></text>
<text class="s1" y="77"><tspan x="238.5">250</tspan><tspan x="478.5">250</tspan><tspan x="718.5">250</tspan><tspan x="958.5">275</tspan></text>
<text class="s2" y="90"><tspan x="238.5">102454</tspan><tspan x="478.5">103454</tspan><tspan x="718.5">104454</tspan><tspan x="958.5">105554</tspan></text>
<text class="s3" y="103"><tspan x="238.5">65.30%</tspan><tspan x="478.5">65.30%</tspan><tspan x="718.5">65.30%</tspan><tspan x="958.5">65.30%</tspan></text>
</g>

<g id="m89-92" transform="translate(31.3,3307.3)">
<rect class="sp" x="480" width="225" height="61"/>
<use href="#st"/>
<rect class="ov" x="245" width="715" height="61"/>
<rect class="pk" x="240" width="5" height="61"/>
<path class="nR" d="M0 15H15H30H90H120H180"/>
<path class="nB" d="M60 45H240"/>
<path class="nY" d="M75 30H165"/>
<path class="nO" d="M150 61H150"/>
<path class="tY" d="M255 30H420H840"/>
<path class="tR" d="M270 15H300H315H330H900"/>
<path class="tB" d="M360 45H420H900"/>
<path class="tO" d="M360 61H360"/>
<path class="zG" d="M480 0H510H525H540H570H600H615H630H660H690H705"/>
<path class="zY" d="M480 30H660"/>
<path class="tG" d="M720 0H750H780H795H810H840H855H870"/>
<text class="tp" y="-20"><tspan x="-0.5">♩=198</tspan><tspan x="239.5">♩=197</tspan><tspan x="479.5">♩=199</tspan><tspan x="719.5">♩=196</tspan></text>
<text class="mn" y="-7"><tspan x=".3">89</tspan><tspan x="240.3">90</tspan><tspan x="480.3">91</tspan><tspan x="720.3">92</tspan></text>
<text class="s1" y="77"><tspan x="238.5">250</tspan><tspan x="478.5">250</tspan><tspan x="718.5">325</tspan><tspan x="958.5">275</tspan></text>
<text class="s2" y="90"><tspan x="238.5">106554</tspan><tspan x="478.5">108554</tspan><tspan x="718.5">111154</tspan><tspan x="958.5">113354</tspan></text>
<text class="s3" y="103"><tspan x="238.5">65.30%</tspan><tspan x="478.5">53.08%</tspan><tspan x="718.5">65.58%</tspan><tspan x="958.5">53.08%</tspan></text>
</g>

<g id="m93-96" transform="translate(31.3,3448.3)">
<use href="#st"/>
<rect class="ov" width="960" height="61"/>
<path class="tG" d="M0 0H30H45H60H90H120H135H150H180H210H225H240H390H480H510H525H540H570H600H615H630H660H690H705H720H750H780H795H810H840H855H870"/>
<path class="tY" d="M0 30H180H300H315H360H375H450H480H660H840"/>
<path class="tB" d="M270 45H900"/>
<path class="tR" d="M330 15H420H435H900"/>
<text class="tp" y="-20"><tspan x="-0.5">♩=194</tspan><tspan x="239.5">♩=200</tspan><tspan x="479.5">♩=197</tspan><tspan x="719.5">♩=197</tspan></text>
<text class="mn" y="-7"><tspan x=".3">93</tspan><tspan x="240.3">94</tspan><tspan x="480.3">95</tspan><tspan x="720.3">96</tspan></text>
<text class="s1" y="77"><tspan x="238.5">325</tspan><tspan x="478.5">275</tspan><tspan x="718.5">325</tspan><tspan x="958.5">275</tspan></text>
<text class="s2" y="90"><tspan x="238.5">115954</tspan><tspan x="478.5">118154</tspan><tspan x="718.5">120754</tspan><tspan x="958.5">122954</tspan></text>
<text class="s3" y="103"><tspan x="238.5">40.58%</tspan><tspan x="478.5">28.08%</tspan><tspan x="718.5">15.58%</tspan><tspan x="958.5">3.08%</tspan></text>
</g>

<g id="m97-100" transform="translate(31.3,3589.3)">
<rect class="yb" x="720" y="-11" width="180" height="82"/>
<rect class="sp" x="720" width="180" height="61"/>
<use href="#st"/>
<rect class="ov" width="540" height="61"/>
<rect class="pk" x="540" width="15" height="61"/>
<path class="tG" d="M0 0H30H45H60H90H120H135H150H180H210H225H240H390H405"/>
<path class="tY" d="M0 30H180H300H315H360"/>
<path class="tB" d="M270 45H285H540"/>
<path class="tR" d="M330 15H345H420H435H480H495H510"/>
<path class="nY" d="M555 30H645"/>
<path class="nR" d="M570 15H600H660"/>
<path class="nO" d="M630 61H630"/>
<path class="xB" d="M720 45H810H840H870H900"/>
<path class="xY" d="M735 30H825H855"/>
<path class="xR" d="M750 15H780"/>
<path class="xO" d="M900 61H900"/>
<text class="tp" y="-20"><tspan x="-0.5">♩=198</tspan><tspan x="239.5">♩=197</tspan><tspan x="479.5">♩=197</tspan><tspan x="719.5">♩=196</tspan></text>
<text class="mn" y="-7"><tspan x=".3">97</tspan><tspan x="240.3">98</tspan><tspan x="480.3">99</tspan><tspan x="720.3">100</tspan></text>
<text class="s1" y="77"><tspan x="238.5">325</tspan><tspan x="478.5">300</tspan><tspan x="718.5">250</tspan><tspan x="958.5">275</tspan></text>
<text class="s2" y="90"><tspan x="238.5">125554</tspan><tspan x="478.5">127954</tspan><tspan x="718.5">129454</tspan><tspan x="958.5">130554</tspan></text>
<text class="s3" y="103"><tspan x="238.5">0.00%</tspan><tspan x="478.5">0.00%</tspan><tspan x="718.5">0.00%</tspan><tspan x="958.5">25.00%</tspan></text>
</g>

<g id="m101-104" transform="translate(31.3,3730.3)">
<use href="#st"/>
<path class="nR" d="M0 15H15H30H90H120H180H270H300H315H330H480H495H510H570H600H660H750H780"/>
<path class="nB" d="M60 45H240H360H420H540H720H810H840H870H900"/>
<path class="nY" d="M75 30H165H255H420H555H645H735H825H855"/>
<path class="nO" d="M150 61H360H630H900"/>
<text class="tp" y="-20"><tspan x="-0.5">♩=198</tspan><tspan x="239.5">♩=195</tspan><tspan x="479.5">♩=199</tspan><tspan x="719.5">♩=196</tspan></text>
<text class="mn" y="-7"><tspan x=".3">101</tspan><tspan x="240.3">102</tspan><tspan x="480.3">103</tspan><tspan x="720.3">104</tspan></text>
<text class="s1" y="77"><tspan x="238.5">250</tspan><tspan x="478.5">250</tspan><tspan x="718.5">250</tspan><tspan x="958.5">275</tspan></text>
<text class="s2" y="90"><tspan x="238.5">131554</tspan><tspan x="478.5">132554</tspan><tspan x="718.5">133554</tspan><tspan x="958.5">134654</tspan></text>
<text class="s3" y="103"><tspan x="238.5">25.00%</tspan><tspan x="478.5">25.00%</tspan><tspan x="718.5">25.00%</tspan><tspan x="958.5">25.00%</tspan></text>
</g>

<g id="m105-108" transform="translate(31.3,3871.3)">
<rect class="gb" x="480" y="-11" width="480" height="82"/>
<rect class="sp" x="240" width="180" height="61"/>
<use href="#st"/>
<path class="lR" d="M480 15H705"/>
<path class="lY" d="M480 30H705"/>
<path class="lB" d="M480 45H705"/>
<path class="lO" d="M720 61H945"/>
<path class="nR" d="M0 15H15H30H90H120H180H480"/>
<path class="nB" d="M60 45H480"/>
<path class="nY" d="M75 30H165H480"/>
<path class="nO" d="M150 61H720"/>
<path class="xB" d="M240 45H360H420"/>
<path class="xY" d="M255 30H420"/>
<path class="xR" d="M270 15H300H315H330"/>
<path class="xO" d="M360 61H360"/>
<text class="tp" y="-20"><tspan x="-0.5">♩=197</tspan><tspan x="239.5">♩=197</tspan><tspan x="479.5">♩=197</tspan><tspan x="719.5">♩=197</tspan></text>
<text class="mn" y="-7"><tspan x=".3">105</tspan><tspan x="240.3">106</tspan><tspan x="480.3">107</tspan><tspan x="720.3">108</tspan></text>
<text class="s1" y="77"><tspan x="238.5">250</tspan><tspan x="478.5">250</tspan><tspan x="718.5">210</tspan><tspan x="958.5">70</tspan></text>
<text class="s2" y="90"><tspan x="238.5">135654</tspan><tspan x="478.5">136654</tspan><tspan x="718.5">137494</tspan><tspan x="958.5">137774</tspan></text>
<text class="s3" y="103"><tspan x="238.5">25.00%</tspan><tspan x="478.5">50.00%</tspan><tspan x="718.5">50.00%</tspan><tspan x="958.5">50.00%</tspan></text>
</g>

<g id="m109-112" transform="translate(31.3,4012.3)">
<rect class="gb" y="-11" width="960" height="82"/>
<use href="#st"/>
<rect class="ov" width="960" height="61"/>
<path class="lB" d="M285 45H435"/>
<path class="tB" d="M0 45H30H105H195H285H525H555H690H795H870"/>
<path class="tO" d="M15 61H90H180H540H780"/>
<path class="tY" d="M45 30H120H210H240H510H570H630H705H810H840H885"/>
<path class="tR" d="M60 15H135H225H255H495H615H720H750H825H900"/>
<path class="tG" d="M150 0H270H480H600H735H930"/>
<text class="tp" y="-20"><tspan x="-0.5">♩=197</tspan><tspan x="239.5">♩=197</tspan><tspan x="479.5">♩=197</tspan><tspan x="719.5">♩=197</tspan></text>
<text class="mn" y="-7"><tspan x=".3">109</tspan><tspan x="240.3">110</tspan><tspan x="480.3">111</tspan><tspan x="720.3">112</tspan></text>
<text class="s1" y="77"><tspan x="238.5">350</tspan><tspan x="478.5">130</tspan><tspan x="718.5">300</tspan><tspan x="958.5">300</tspan></text>
<text class="s2" y="90"><tspan x="238.5">140574</tspan><tspan x="478.5">141614</tspan><tspan x="718.5">144014</tspan><tspan x="958.5">146514</tspan></text>
<text class="s3" y="103"><tspan x="238.5">37.58%</tspan><tspan x="478.5">25.08%</tspan><tspan x="718.5">12.58%</tspan><tspan x="958.5">0.08%</tspan></text>
</g>

<g id="m113-116" transform="translate(31.3,4153.3)">
<rect class="gb" y="-11" width="960" height="82"/>
<rect class="yb2" x="720" y="-11" width="180" height="82"/>
<rect class="sp2" x="720" width="180" height="61"/>
<use href="#st"/>
<rect class="ov" width="480" height="61"/>
<rect class="pk2" x="480" width="5" height="61"/>
<path class="lO" d="M487 61H660"/>
<path class="kO" d="M726 61H900"/>
<path class="tY" d="M0 30H15H120H150H225H285H330H375H420H465"/>
<path class="tR" d="M30 15H60H135H270H300H390H435"/>
<path class="tG" d="M45 0H45"/>
<path class="tB" d="M90 45H105H210H240H360H405H450H480"/>
<path class="tO" d="M180 61H195"/>
<path class="nO" d="M487 61H487"/>
<path class="nY" d="M680 30H680"/>
<path class="nR" d="M700 15H700"/>
<path class="xB" d="M720 45H720"/>
<path class="xO" d="M726 61H726"/>
<text class="tp" y="-20"><tspan x="-0.5">♩=200</tspan><tspan x="59.5">♩=195</tspan><tspan x="179.5">♩=210</tspan><tspan x="239.5">♩=196</tspan><tspan x="479.5">♩=191</tspan><tspan x="539.5">♩=195</tspan><tspan x="599.5">♩=199</tspan><tspan x="659.5">♩=195</tspan><tspan x="719.5">♩=197</tspan><tspan x="959.5">♩=197</tspan></text>
<text class="mn" y="-7"><tspan x=".3">113</tspan><tspan x="240.3">114</tspan><tspan x="480.3">115</tspan><tspan x="720.3">116</tspan></text>
<text class="s1" y="77"><tspan x="238.5">350</tspan><tspan x="478.5">325</tspan><tspan x="718.5">135</tspan><tspan x="958.5">85</tspan></text>
<text class="s2" y="90"><tspan x="238.5">149214</tspan><tspan x="478.5">151814</tspan><tspan x="718.5">152554</tspan><tspan x="958.5">152894</tspan></text>
<text class="s3" y="103"><tspan x="238.5">0.00%</tspan><tspan x="478.5">0.00%</tspan><tspan x="718.5">0.00%</tspan><tspan x="958.5">34.78%</tspan></text>
</g>

<g id="m117-120" transform="translate(31.3,4294.3)">
<rect class="gb" y="-11" width="960" height="82"/>
<use href="#st"/>
<rect class="ov" x="125" width="835" height="61"/>
<rect class="pk2" x="120" width="5" height="61"/>
<path class="lG" d="M300 0H465"/>
<path class="nR" d="M0 15H0"/>
<path class="nY" d="M15 30H120"/>
<path class="nB" d="M30 45H60H90"/>
<path class="nO" d="M45 61H75"/>
<path class="tR" d="M135 15H180H240H285H680"/>
<path class="tG" d="M150 0H195H300H660H700"/>
<path class="tY" d="M165 30H225H270H480H520H750H780"/>
<path class="tB" d="M210 45H255H500H570H600H765H840H870H900H930"/>
<path class="tO" d="M585 61H855H885H915"/>
<text class="tp" y="-20"><tspan x="239.5">♩=197</tspan><tspan x="479.5">♩=197</tspan><tspan x="719.5">♩=197</tspan><tspan x="959.5">♩=197</tspan></text>
<text class="mn" y="-7"><tspan x=".3">117</tspan><tspan x="240.3">118</tspan><tspan x="480.3">119</tspan><tspan x="720.3">120</tspan></text>
<text class="s1" y="77"><tspan x="238.5">375</tspan><tspan x="478.5">158</tspan><tspan x="718.5">225</tspan><tspan x="958.5">250</tspan></text>
<text class="s2" y="90"><tspan x="238.5">155194</tspan><tspan x="478.5">156558</tspan><tspan x="718.5">158258</tspan><tspan x="958.5">160258</tspan></text>
<text class="s3" y="103"><tspan x="238.5">28.81%</tspan><tspan x="478.5">16.31%</tspan><tspan x="718.5">3.81%</tspan><tspan x="958.5">0.00%</tspan></text>
</g>

<g id="m121-124" transform="translate(31.3,4435.3)">
<rect class="gb" y="-11" width="960" height="82"/>
<use href="#st"/>
<rect class="ov" width="313" height="61"/>
<rect class="pk2" x="313" width="17" height="61"/>
<path class="lO" d="M450 61H735M840 61H885"/>
<path class="tB" d="M0 45H90H180H270"/>
<path class="tY" d="M15 30H75H105H165H195H255H285"/>
<path class="tR" d="M30 15H60H120H150H210H240H300"/>
<path class="tG" d="M45 0H135H225H315"/>
<path class="nR" d="M330 15H390H420"/>
<path class="nY" d="M345 30H375H435H760H930"/>
<path class="nB" d="M360 45H800H900"/>
<path class="nG" d="M405 0H405"/>
<path class="nO" d="M450 61H840"/>
<text class="tp" y="-20"><tspan x="479.5">♩=197</tspan><tspan x="719.5">♩=197</tspan><tspan x="959.5">♩=197</tspan></text>
<text class="mn" y="-7"><tspan x=".3">121</tspan><tspan x="240.3">122</tspan><tspan x="480.3">123</tspan><tspan x="720.3">124</tspan></text>
<text class="s1" y="77"><tspan x="238.5">400</tspan><tspan x="478.5">361</tspan><tspan x="718.5">48</tspan><tspan x="958.5">137</tspan></text>
<text class="s2" y="90"><tspan x="238.5">163458</tspan><tspan x="478.5">165682</tspan><tspan x="718.5">165874</tspan><tspan x="958.5">166422</tspan></text>
<text class="s3" y="103"><tspan x="238.5">0.00%</tspan><tspan x="478.5">0.00%</tspan><tspan x="718.5">0.00%</tspan><tspan x="958.5">0.00%</tspan></text>
</g>

<g id="m125-128" transform="translate(31.3,4576.3)">
<rect class="gb" y="-11" width="960" height="82"/>
<rect class="sp2" x="280" width="170" height="61"/>
<use href="#st"/>
<path class="lR" d="M0 15H240M480 15H741"/>
<path class="kB" d="M367 45H405"/>
<path class="lY" d="M847 30H900"/>
<path class="nR" d="M0 15H480H840H920"/>
<path class="xG" d="M280 0H280"/>
<path class="xR" d="M320 15H320"/>
<path class="xY" d="M360 30H450"/>
<path class="xB" d="M367 45H367"/>
<path class="nG" d="M760 0H760"/>
<path class="nY" d="M800 30H847"/>
<text class="tp" y="-20"><tspan x="239.5">♩=197</tspan><tspan x="479.5">♩=197</tspan><tspan x="719.5">♩=197</tspan><tspan x="959.5">♩=196</tspan></text>
<text class="mn" y="-7"><tspan x=".3">125</tspan><tspan x="240.3">126</tspan><tspan x="480.3">127</tspan><tspan x="720.3">128</tspan></text>
<text class="s1" y="77"><tspan x="238.5">73</tspan><tspan x="478.5">133</tspan><tspan x="718.5">73</tspan><tspan x="958.5">141</tspan></text>
<text class="s2" y="90"><tspan x="238.5">166714</tspan><tspan x="478.5">167246</tspan><tspan x="718.5">167538</tspan><tspan x="958.5">168102</tspan></text>
<text class="s3" y="103"><tspan x="238.5">0.00%</tspan><tspan x="478.5">27.12%</tspan><tspan x="718.5">27.12%</tspan><tspan x="958.5">27.12%</tspan></text>
</g>

<g id="m129-132" transform="translate(31.3,4717.3)">
<rect class="gb" y="-11" width="480" height="82"/>
<rect class="yb" x="720" y="-11" width="180" height="82"/>
<rect class="sp" x="720" width="180" height="61"/>
<use href="#st"/>
<path class="lG" d="M0 0H195"/>
<path class="nG" d="M0 0H540H560H580H660H680H700"/>
<path class="nR" d="M210 15H285H345H405H450"/>
<path class="nO" d="M240 61H300H360"/>
<path class="nB" d="M255 45H315H375H420H600"/>
<path class="nY" d="M270 30H330H390H435H480"/>
<path class="xG" d="M720 0H740H760H840H860H880"/>
<path class="xR" d="M780 15H780"/>
<path class="xB" d="M900 45H900"/>
<text class="tp" y="-20"><tspan x="239.5">♩=199</tspan><tspan x="479.5">♩=195</tspan><tspan x="719.5">♩=195</tspan><tspan x="959.5">♩=195</tspan></text>
<text class="mn" y="-7"><tspan x=".3">129</tspan><tspan x="240.3">130</tspan><tspan x="480.3">131</tspan><tspan x="720.3">132</tspan></text>
<text class="s1" y="77"><tspan x="238.5">89</tspan><tspan x="478.5">375</tspan><tspan x="718.5">200</tspan><tspan x="958.5">200</tspan></text>
<text class="s2" y="90"><tspan x="238.5">168458</tspan><tspan x="478.5">169958</tspan><tspan x="718.5">188858</tspan><tspan x="958.5">189658</tspan></text>
<text class="s3" y="103"><tspan x="238.5">27.12%</tspan><tspan x="478.5">27.12%</tspan><tspan x="718.5">27.12%</tspan><tspan x="958.5">52.12%</tspan></text>
</g>

<g id="m133-136" transform="translate(31.3,4858.3)">
<use href="#st"/>
<rect class="ov" x="66" width="894" height="61"/>
<rect class="pk" x="60" width="6" height="61"/>
<path class="mR" d="M300 15H405"/>
<path class="lB" d="M300 45H405M780 45H885"/>
<path class="nY" d="M0 30H0"/>
<path class="nG" d="M60 0H60"/>
<path class="tG" d="M80 0H100H180H200H220H240H260H280H540H560H580H660H680H700H720H740H760"/>
<path class="tB" d="M120 45H300H600H780"/>
<path class="tR" d="M300 15H300"/>
<path class="tY" d="M420 30H480H900"/>
<path class="tO" d="M420 61H420"/>
<text class="tp" y="-20"><tspan x="239.5">♩=195</tspan><tspan x="479.5">♩=195</tspan><tspan x="719.5">♩=195</tspan><tspan x="959.5">♩=195</tspan></text>
<text class="mn" y="-7"><tspan x=".3">133</tspan><tspan x="240.3">134</tspan><tspan x="480.3">135</tspan><tspan x="720.3">136</tspan></text>
<text class="s1" y="77"><tspan x="238.5">200</tspan><tspan x="478.5">217</tspan><tspan x="718.5">200</tspan><tspan x="958.5">146</tspan></text>
<text class="s2" y="90"><tspan x="238.5">191158</tspan><tspan x="478.5">192894</tspan><tspan x="718.5">194494</tspan><tspan x="958.5">195662</tspan></text>
<text class="s3" y="103"><tspan x="238.5">43.06%</tspan><tspan x="478.5">30.56%</tspan><tspan x="718.5">18.06%</tspan><tspan x="958.5">5.56%</tspan></text>
</g>

<g id="m137-140" transform="translate(31.3,4999.3)">
<rect class="sp" x="600" width="285" height="61"/>
<use href="#st"/>
<rect class="ov" width="587" height="61"/>
<rect class="pk" x="587" width="13" height="61"/>
<path class="mR" d="M300 15H405M480 15H585"/>
<path class="lB" d="M300 45H405M480 45H585"/>
<path class="kY" d="M600 30H765M780 30H885"/>
<path class="kO" d="M600 61H765"/>
<path class="kG" d="M780 0H885"/>
<path class="tY" d="M0 30H420"/>
<path class="tG" d="M60 0H80H100H180H200H220H240H260H280"/>
<path class="tB" d="M120 45H300H480"/>
<path class="tR" d="M300 15H480"/>
<path class="tO" d="M420 61H420"/>
<path class="xY" d="M600 30H780"/>
<path class="xO" d="M600 61H600"/>
<path class="xG" d="M780 0H780"/>
<path class="nY" d="M900 30H900"/>
<path class="nO" d="M900 61H900"/>
<text class="tp" y="-20"><tspan x="239.5">♩=195</tspan><tspan x="479.5">♩=195</tspan><tspan x="719.5">♩=195</tspan></text>
<text class="mn" y="-7"><tspan x=".3">137</tspan><tspan x="240.3">138</tspan><tspan x="480.3">139</tspan><tspan x="720.3">140</tspan></text>
<text class="s1" y="77"><tspan x="238.5">200</tspan><tspan x="478.5">217</tspan><tspan x="718.5">190</tspan><tspan x="958.5">160</tspan></text>
<text class="s2" y="90"><tspan x="238.5">197262</tspan><tspan x="478.5">198998</tspan><tspan x="718.5">200326</tspan><tspan x="958.5">200966</tspan></text>
<text class="s3" y="103"><tspan x="238.5">0.00%</tspan><tspan x="478.5">0.00%</tspan><tspan x="718.5">6.80%</tspan><tspan x="958.5">40.30%</tspan></text>
</g>

<g id="m141-144" transform="translate(31.3,5140.3)">
<use href="#st"/>
<path class="lR" d="M0 15H105M480 15H585"/>
<path class="lB" d="M0 45H105M300 45H405M480 45H585"/>
<path class="lY" d="M120 30H285M600 30H765M780 30H885"/>
<path class="lO" d="M120 61H285M300 61H405M600 61H765"/>
<path class="lG" d="M780 0H885"/>
<path class="nR" d="M0 15H480"/>
<path class="nB" d="M0 45H300H420H480"/>
<path class="nY" d="M120 30H420H600H780H900"/>
<path class="nO" d="M120 61H300H600H900"/>
<path class="nG" d="M780 0H780"/>
<text class="tp" y="-20"><tspan x="479.5">♩=199</tspan><tspan x="719.5">♩=192</tspan></text>
<text class="mn" y="-7"><tspan x=".3">141</tspan><tspan x="240.3">142</tspan><tspan x="480.3">143</tspan><tspan x="720.3">144</tspan></text>
<text class="s1" y="77"><tspan x="238.5">190</tspan><tspan x="478.5">160</tspan><tspan x="718.5">190</tspan><tspan x="958.5">160</tspan></text>
<text class="s2" y="90"><tspan x="238.5">201726</tspan><tspan x="478.5">202366</tspan><tspan x="718.5">203126</tspan><tspan x="958.5">203766</tspan></text>
<text class="s3" y="103"><tspan x="238.5">40.30%</tspan><tspan x="478.5">40.30%</tspan><tspan x="718.5">40.30%</tspan><tspan x="958.5">40.30%</tspan></text>
</g>

<g id="m145-148" transform="translate(31.3,5281.3)">
<rect class="yb" x="720" y="-11" width="210" height="82"/>
<rect class="sp" x="720" width="210" height="61"/>
<use href="#st"/>
<path class="lR" d="M0 15H105"/>
<path class="lB" d="M0 45H105M300 45H405"/>
<path class="lY" d="M120 30H285"/>
<path class="lO" d="M120 61H285M300 61H405"/>
<path class="nR" d="M0 15H0"/>
<path class="nB" d="M0 45H300H420H510H570H630H690"/>
<path class="nY" d="M120 30H420H480H540H600H660"/>
<path class="nO" d="M120 61H300"/>
<path class="xY" d="M720 30H780H840"/>
<path class="xB" d="M750 45H750"/>
<path class="xR" d="M810 15H870H930"/>
<path class="xG" d="M900 0H900"/>
<text class="tp" y="-20"><tspan x="-0.5">♩=196</tspan><tspan x="239.5">♩=194</tspan><tspan x="479.5">♩=196</tspan><tspan x="719.5">♩=196</tspan></text>
<text class="mn" y="-7"><tspan x=".3">145</tspan><tspan x="240.3">146</tspan><tspan x="480.3">147</tspan><tspan x="720.3">148</tspan></text>
<text class="s1" y="77"><tspan x="238.5">190</tspan><tspan x="478.5">160</tspan><tspan x="718.5">200</tspan><tspan x="958.5">200</tspan></text>
<text class="s2" y="90"><tspan x="238.5">204526</tspan><tspan x="478.5">205166</tspan><tspan x="718.5">205966</tspan><tspan x="958.5">206766</tspan></text>
<text class="s3" y="103"><tspan x="238.5">40.30%</tspan><tspan x="478.5">40.30%</tspan><tspan x="718.5">40.30%</tspan><tspan x="958.5">65.30%</tspan></text>
</g>

<g id="m149-152" transform="translate(31.3,5422.3)">
<use href="#st"/>
<path class="nY" d="M0 30H60H180H240H360H420H480H540H600H660H720H840"/>
<path class="nB" d="M30 45H90H150H210H270H330H510H570H630H690"/>
<path class="nO" d="M120 61H300"/>
<path class="nR" d="M390 15H450H750H810H870H930"/>
<path class="nG" d="M780 0H900"/>
<text class="tp" y="-20"><tspan x="-0.5">♩=196</tspan><tspan x="239.5">♩=196</tspan><tspan x="479.5">♩=196</tspan><tspan x="719.5">♩=196</tspan></text>
<text class="mn" y="-7"><tspan x=".3">149</tspan><tspan x="240.3">150</tspan><tspan x="480.3">151</tspan><tspan x="720.3">152</tspan></text>
<text class="s1" y="77"><tspan x="238.5">200</tspan><tspan x="478.5">200</tspan><tspan x="718.5">200</tspan><tspan x="958.5">200</tspan></text>
<text class="s2" y="90"><tspan x="238.5">207566</tspan><tspan x="478.5">208366</tspan><tspan x="718.5">209166</tspan><tspan x="958.5">209966</tspan></text>
<text class="s3" y="103"><tspan x="238.5">65.30%</tspan><tspan x="478.5">65.30%</tspan><tspan x="718.5">65.30%</tspan><tspan x="958.5">65.30%</tspan></text>
</g>

<g id="m153-156" transform="translate(31.3,5563.3)">
<use href="#st"/>
<rect class="ov" x="492" width="468" height="61"/>
<rect class="pk" x="480" width="12" height="61"/>
<path class="nY" d="M0 30H60H180H240H360H420H480"/>
<path class="nB" d="M30 45H90H150H210H270H330"/>
<path class="nO" d="M120 61H300"/>
<path class="nR" d="M390 15H450"/>
<path class="nG" d="M480 0H480"/>
<path class="tG" d="M520 0H540H560H580H600H640H660H680H700H920H940"/>
<path class="tY" d="M600 30H780H800H820H900"/>
<path class="tO" d="M720 61H720"/>
<path class="tB" d="M760 45H840"/>
<path class="tR" d="M880 15H880"/>
<text class="tp" y="-20"><tspan x="-0.5">♩=196</tspan><tspan x="239.5">♩=196</tspan><tspan x="479.5">♩=195</tspan><tspan x="839.5">♩=194</tspan></text>
<text class="mn" y="-7"><tspan x=".3">153</tspan><tspan x="240.3">154</tspan><tspan x="480.3">155</tspan><tspan x="720.3">156</tspan></text>
<text class="s1" y="77"><tspan x="238.5">200</tspan><tspan x="478.5">200</tspan><tspan x="718.5">300</tspan><tspan x="958.5">250</tspan></text>
<text class="s2" y="90"><tspan x="238.5">210766</tspan><tspan x="478.5">211566</tspan><tspan x="718.5">213966</tspan><tspan x="958.5">215966</tspan></text>
<text class="s3" y="103"><tspan x="238.5">65.30%</tspan><tspan x="478.5">65.30%</tspan><tspan x="718.5">53.45%</tspan><tspan x="958.5">40.95%</tspan></text>
</g>

<g id="m157-160" transform="translate(31.3,5704.3)">
<rect class="sp" x="480" width="219" height="61"/>
<use href="#st"/>
<rect class="ov" width="960" height="61"/>
<path class="tG" d="M0 0H40H60H80H100H120H160H180H200H220H920H940"/>
<path class="tY" d="M0 30H120H300H320H340H380H400H780H800H820H900"/>
<path class="tO" d="M240 61H720"/>
<path class="tB" d="M280 45H360H420H760H840"/>
<path class="tR" d="M880 15H880"/>
<path class="zG" d="M480 0H520H540H560H580H600H640H660H680H700"/>
<path class="zY" d="M480 30H600"/>
<text class="tp" y="-20"><tspan x="-0.5">♩=195</tspan><tspan x="239.5">♩=195</tspan><tspan x="479.5">♩=195</tspan><tspan x="719.5">♩=195</tspan></text>
<text class="mn" y="-7"><tspan x=".3">157</tspan><tspan x="240.3">158</tspan><tspan x="480.3">159</tspan><tspan x="720.3">160</tspan></text>
<text class="s1" y="77"><tspan x="238.5">300</tspan><tspan x="478.5">225</tspan><tspan x="718.5">300</tspan><tspan x="958.5">250</tspan></text>
<text class="s2" y="90"><tspan x="238.5">218366</tspan><tspan x="478.5">220166</tspan><tspan x="718.5">222566</tspan><tspan x="958.5">224566</tspan></text>
<text class="s3" y="103"><tspan x="238.5">28.45%</tspan><tspan x="478.5">15.95%</tspan><tspan x="718.5">28.45%</tspan><tspan x="958.5">15.95%</tspan></text>
</g>

<g id="m161-164" transform="translate(31.3,5845.3)">
<rect class="yb" x="720" y="-11" width="220" height="82"/>
<rect class="sp" x="720" width="220" height="61"/>
<use href="#st"/>
<rect class="ov" width="786" height="61"/>
<rect class="tn" x="786" width="14" height="61"/>
<path class="tG" d="M0 0H40H60H80H100H120H160H180H200H220H480H520H540H560H580H600H640H660H680H700"/>
<path class="tY" d="M0 30H120H300H320H340H360H480H600"/>
<path class="tO" d="M240 61H420"/>
<path class="tB" d="M280 45H360H420"/>
<path class="zO" d="M720 61H720"/>
<path class="zB" d="M760 45H760"/>
<path class="zY" d="M780 30H780"/>
<path class="xY" d="M800 30H820H900"/>
<path class="xB" d="M840 45H840"/>
<path class="xR" d="M880 15H880"/>
<path class="xG" d="M920 0H940"/>
<text class="tp" y="-20"><tspan x="-0.5">♩=195</tspan><tspan x="239.5">♩=195</tspan><tspan x="479.5">♩=195</tspan><tspan x="719.5">♩=195</tspan></text>
<text class="mn" y="-7"><tspan x=".3">161</tspan><tspan x="240.3">162</tspan><tspan x="480.3">163</tspan><tspan x="720.3">164</tspan></text>
<text class="s1" y="77"><tspan x="238.5">300</tspan><tspan x="478.5">225</tspan><tspan x="718.5">300</tspan><tspan x="958.5">250</tspan></text>
<text class="s2" y="90"><tspan x="238.5">226966</tspan><tspan x="478.5">228766</tspan><tspan x="718.5">231166</tspan><tspan x="958.5">232566</tspan></text>
<text class="s3" y="103"><tspan x="238.5">3.45%</tspan><tspan x="478.5">0.00%</tspan><tspan x="718.5">0.00%</tspan><tspan x="958.5">25.00%</tspan></text>
</g>

<g id="m165-168" transform="translate(31.3,5986.3)">
<use href="#st"/>
<rect class="ov" x="585" width="375" height="61"/>
<rect class="pk" x="580" width="5" height="61"/>
<path class="nG" d="M0 0H40H60H80H100H120H140H160H180H200H220H480H520H540H560H580"/>
<path class="nY" d="M0 30H120H240H300H420H480"/>
<path class="nR" d="M240 15H240"/>
<path class="nB" d="M300 45H360H420"/>
<path class="nO" d="M360 61H360"/>
<path class="tG" d="M600 0H640H660H680H700H720H760H780H800H820H840H860H880"/>
<path class="tY" d="M600 30H720H840"/>
<path class="tR" d="M900 15H900"/>
<path class="tB" d="M900 45H900"/>
<text class="tp" y="-20"><tspan x="-0.5">♩=195</tspan><tspan x="239.5">♩=195</tspan><tspan x="479.5">♩=195</tspan><tspan x="719.5">♩=195</tspan></text>
<text class="mn" y="-7"><tspan x=".3">165</tspan><tspan x="240.3">166</tspan><tspan x="480.3">167</tspan><tspan x="720.3">168</tspan></text>
<text class="s1" y="77"><tspan x="238.5">325</tspan><tspan x="478.5">200</tspan><tspan x="718.5">300</tspan><tspan x="958.5">300</tspan></text>
<text class="s2" y="90"><tspan x="238.5">233866</tspan><tspan x="478.5">234666</tspan><tspan x="718.5">236566</tspan><tspan x="958.5">238966</tspan></text>
<text class="s3" y="103"><tspan x="238.5">25.00%</tspan><tspan x="478.5">25.00%</tspan><tspan x="718.5">18.03%</tspan><tspan x="958.5">5.53%</tspan></text>
</g>

<g id="m169-172" transform="translate(31.3,6127.3)">
<use href="#st"/>
<rect class="ov" width="587" height="61"/>
<rect class="pk" x="587" width="13" height="61"/>
<path class="lR" d="M840 15H885M900 15H945"/>
<path class="lY" d="M840 30H885M900 30H945"/>
<path class="tG" d="M0 0H40H60H80H100H120H160H180H200H220H440H460H480H520H540H560H580"/>
<path class="tY" d="M0 30H120H300H320H340H420H480"/>
<path class="tO" d="M240 61H240"/>
<path class="tB" d="M280 45H360"/>
<path class="tR" d="M400 15H400"/>
<path class="nG" d="M600 0H640H660H680H700H720H760H780H800H820"/>
<path class="nY" d="M720 30H840H900"/>
<path class="nR" d="M840 15H900"/>
<text class="tp" y="-20"><tspan x="-0.5">♩=195</tspan><tspan x="239.5">♩=195</tspan><tspan x="479.5">♩=195</tspan><tspan x="719.5">♩=195</tspan></text>
<text class="mn" y="-7"><tspan x=".3">169</tspan><tspan x="240.3">170</tspan><tspan x="480.3">171</tspan><tspan x="720.3">172</tspan></text>
<text class="s1" y="77"><tspan x="238.5">300</tspan><tspan x="478.5">250</tspan><tspan x="718.5">300</tspan><tspan x="958.5">286</tspan></text>
<text class="s2" y="90"><tspan x="238.5">241366</tspan><tspan x="478.5">243366</tspan><tspan x="718.5">245366</tspan><tspan x="958.5">246510</tspan></text>
<text class="s3" y="103"><tspan x="238.5">0.00%</tspan><tspan x="478.5">0.00%</tspan><tspan x="718.5">0.00%</tspan><tspan x="958.5">0.00%</tspan></text>
</g>

<g id="m173-176" transform="translate(31.3,6268.3)">
<rect class="sp" x="240" width="180" height="61"/>
<use href="#st"/>
<path class="lR" d="M480 15H585"/>
<path class="lB" d="M480 45H585"/>
<path class="lY" d="M600 30H765M780 30H885"/>
<path class="lO" d="M600 61H765"/>
<path class="lG" d="M780 0H885"/>
<path class="nG" d="M0 0H40H60H80H100H120H160H180H200H220H780"/>
<path class="nY" d="M0 30H120H600H780H900"/>
<path class="xR" d="M240 15H240"/>
<path class="xY" d="M240 30H300H420"/>
<path class="xB" d="M300 45H360H420"/>
<path class="xO" d="M360 61H360"/>
<path class="nR" d="M480 15H480"/>
<path class="nB" d="M480 45H480"/>
<path class="nO" d="M600 61H900"/>
<text class="tp" y="-20"><tspan x="-0.5">♩=193</tspan><tspan x="239.5">♩=197</tspan><tspan x="479.5">♩=195</tspan><tspan x="719.5">♩=195</tspan></text>
<text class="mn" y="-7"><tspan x=".3">173</tspan><tspan x="240.3">174</tspan><tspan x="480.3">175</tspan><tspan x="720.3">176</tspan></text>
<text class="s1" y="77"><tspan x="238.5">300</tspan><tspan x="478.5">200</tspan><tspan x="718.5">190</tspan><tspan x="958.5">160</tspan></text>
<text class="s2" y="90"><tspan x="238.5">247710</tspan><tspan x="478.5">248510</tspan><tspan x="718.5">249270</tspan><tspan x="958.5">249910</tspan></text>
<text class="s3" y="103"><tspan x="238.5">0.00%</tspan><tspan x="478.5">25.00%</tspan><tspan x="718.5">25.00%</tspan><tspan x="958.5">25.00%</tspan></text>
</g>

<g id="m177-180" transform="translate(31.3,6409.3)">
<rect class="yb" x="780" y="-11" width="120" height="82"/>
<rect class="sp" x="780" width="120" height="61"/>
<use href="#st"/>
<path class="lR" d="M0 15H105M480 15H585"/>
<path class="lB" d="M0 45H105M300 45H405M480 45H585"/>
<path class="lY" d="M120 30H285M600 30H765"/>
<path class="lO" d="M120 61H285M300 61H405M600 61H765"/>
<path class="kG" d="M780 0H885"/>
<path class="kY" d="M780 30H885"/>
<path class="nR" d="M0 15H480"/>
<path class="nB" d="M0 45H300H420H480"/>
<path class="nY" d="M120 30H420H600"/>
<path class="nO" d="M120 61H300H600"/>
<path class="xG" d="M780 0H780"/>
<path class="xY" d="M780 30H900"/>
<path class="xO" d="M900 61H900"/>
<text class="tp" y="-20"><tspan x="-0.5">♩=195</tspan><tspan x="239.5">♩=195</tspan><tspan x="479.5">♩=195</tspan><tspan x="719.5">♩=195</tspan></text>
<text class="mn" y="-7"><tspan x=".3">177</tspan><tspan x="240.3">178</tspan><tspan x="480.3">179</tspan><tspan x="720.3">180</tspan></text>
<text class="s1" y="77"><tspan x="238.5">190</tspan><tspan x="478.5">160</tspan><tspan x="718.5">190</tspan><tspan x="958.5">160</tspan></text>
<text class="s2" y="90"><tspan x="238.5">250670</tspan><tspan x="478.5">251310</tspan><tspan x="718.5">252070</tspan><tspan x="958.5">252710</tspan></text>
<text class="s3" y="103"><tspan x="238.5">25.00%</tspan><tspan x="478.5">25.00%</tspan><tspan x="718.5">25.00%</tspan><tspan x="958.5">55.95%</tspan></text>
</g>

<g id="m181-184" transform="translate(31.3,6550.3)">
<use href="#st"/>
<rect class="ov" x="846" width="114" height="61"/>
<rect class="pk" x="840" width="6" height="61"/>
<path class="lR" d="M0 15H105"/>
<path class="lB" d="M0 45H105M300 45H405"/>
<path class="lY" d="M120 30H285"/>
<path class="lO" d="M120 61H285M300 61H405"/>
<path class="nR" d="M0 15H780"/>
<path class="nB" d="M0 45H300H420H600"/>
<path class="nY" d="M120 30H420H480"/>
<path class="nO" d="M120 61H300"/>
<path class="nG" d="M540 0H560H580H660H680H700H720H740H760H840"/>
<path class="tG" d="M860 0H880"/>
<path class="tB" d="M900 45H900"/>
<text class="tp" y="-20"><tspan x="-0.5">♩=195</tspan><tspan x="239.5">♩=195</tspan><tspan x="479.5">♩=195</tspan><tspan x="719.5">♩=195</tspan></text>
<text class="mn" y="-7"><tspan x=".3">181</tspan><tspan x="240.3">182</tspan><tspan x="480.3">183</tspan><tspan x="720.3">184</tspan></text>
<text class="s1" y="77"><tspan x="238.5">190</tspan><tspan x="478.5">160</tspan><tspan x="718.5">200</tspan><tspan x="958.5">200</tspan></text>
<text class="s2" y="90"><tspan x="238.5">253470</tspan><tspan x="478.5">254110</tspan><tspan x="718.5">254910</tspan><tspan x="958.5">256110</tspan></text>
<text class="s3" y="103"><tspan x="238.5">55.95%</tspan><tspan x="478.5">55.95%</tspan><tspan x="718.5">55.95%</tspan><tspan x="958.5">50.11%</tspan></text>
</g>

<g id="m185-188" transform="translate(31.3,6691.3)">
<use href="#st"/>
<rect class="ov" width="960" height="61"/>
<path class="mR" d="M300 15H405"/>
<path class="lB" d="M300 45H405M780 45H885"/>
<path class="tY" d="M0 30H420H480H900"/>
<path class="tG" d="M60 0H80H100H180H200H220H240H260H280H540H560H580H660H680H700H720H740H760"/>
<path class="tB" d="M120 45H300H600H780"/>
<path class="tR" d="M300 15H300"/>
<path class="tO" d="M420 61H420"/>
<text class="tp" y="-20"><tspan x="-0.5">♩=195</tspan><tspan x="239.5">♩=195</tspan><tspan x="479.5">♩=195</tspan><tspan x="719.5">♩=195</tspan></text>
<text class="mn" y="-7"><tspan x=".3">185</tspan><tspan x="240.3">186</tspan><tspan x="480.3">187</tspan><tspan x="720.3">188</tspan></text>
<text class="s1" y="77"><tspan x="238.5">200</tspan><tspan x="478.5">217</tspan><tspan x="718.5">225</tspan><tspan x="958.5">121</tspan></text>
<text class="s2" y="90"><tspan x="238.5">257710</tspan><tspan x="478.5">259446</tspan><tspan x="718.5">261246</tspan><tspan x="958.5">262214</tspan></text>
<text class="s3" y="103"><tspan x="238.5">37.61%</tspan><tspan x="478.5">25.11%</tspan><tspan x="718.5">12.61%</tspan><tspan x="958.5">0.11%</tspan></text>
</g>

<g id="m189-192" transform="translate(31.3,6832.3)">
<rect class="sp" width="220" height="61"/>
<use href="#st"/>
<rect class="ov" width="960" height="61"/>
<path class="zY" d="M0 30H0"/>
<path class="zG" d="M60 0H80H100H180H200H220"/>
<path class="zB" d="M120 45H120"/>
<path class="tO" d="M240 61H480H720H740"/>
<path class="tB" d="M280 45H360H460H520H600H700H760H840"/>
<path class="tY" d="M300 30H320H340H440H540H560H580H680H780H800H820H900H920H940"/>
<path class="tG" d="M400 0H640"/>
<path class="tR" d="M420 15H660H860H880"/>
<text class="tp" y="-20"><tspan x="-0.5">♩=195</tspan><tspan x="239.5">♩=197</tspan><tspan x="479.5">♩=197</tspan><tspan x="719.5">♩=197</tspan></text>
<text class="mn" y="-7"><tspan x=".3">189</tspan><tspan x="240.3">190</tspan><tspan x="480.3">191</tspan><tspan x="720.3">192</tspan></text>
<text class="s1" y="77"><tspan x="238.5">200</tspan><tspan x="478.5">250</tspan><tspan x="718.5">250</tspan><tspan x="958.5">300</tspan></text>
<text class="s2" y="90"><tspan x="238.5">263814</tspan><tspan x="478.5">265814</tspan><tspan x="718.5">267814</tspan><tspan x="958.5">270214</tspan></text>
<text class="s3" y="103"><tspan x="238.5">23.96%</tspan><tspan x="478.5">11.46%</tspan><tspan x="718.5">0.00%</tspan><tspan x="958.5">0.00%</tspan></text>
</g>

<g id="m193-196" transform="translate(31.3,6973.3)">
<use href="#st"/>
<path class="lG" d="M0 0H795M810 0H885"/>
<path class="lY" d="M0 30H795M810 30H885"/>
<path class="lB" d="M810 45H885"/>
<path class="nG" d="M0 0H810"/>
<path class="nY" d="M0 30H810"/>
<path class="nB" d="M810 45H810"/>
<text class="tp" y="-20"><tspan x="719.5">♩=195</tspan></text>
<text class="mn" y="-7"><tspan x=".3">193</tspan><tspan x="240.3">194</tspan><tspan x="480.3">195</tspan><tspan x="720.3">196</tspan></text>
<text class="s1" y="77"><tspan x="238.5">146</tspan><tspan x="478.5">96</tspan><tspan x="718.5">96</tspan><tspan x="958.5">150</tspan></text>
<text class="s2" y="90"><tspan x="238.5">271002</tspan><tspan x="478.5">271386</tspan><tspan x="718.5">271770</tspan><tspan x="958.5">272370</tspan></text>
<text class="s3" y="103"><tspan x="238.5">0.00%</tspan><tspan x="478.5">0.00%</tspan><tspan x="718.5">0.00%</tspan><tspan x="958.5">0.00%</tspan></text>
</g>
</g>
</svg>
